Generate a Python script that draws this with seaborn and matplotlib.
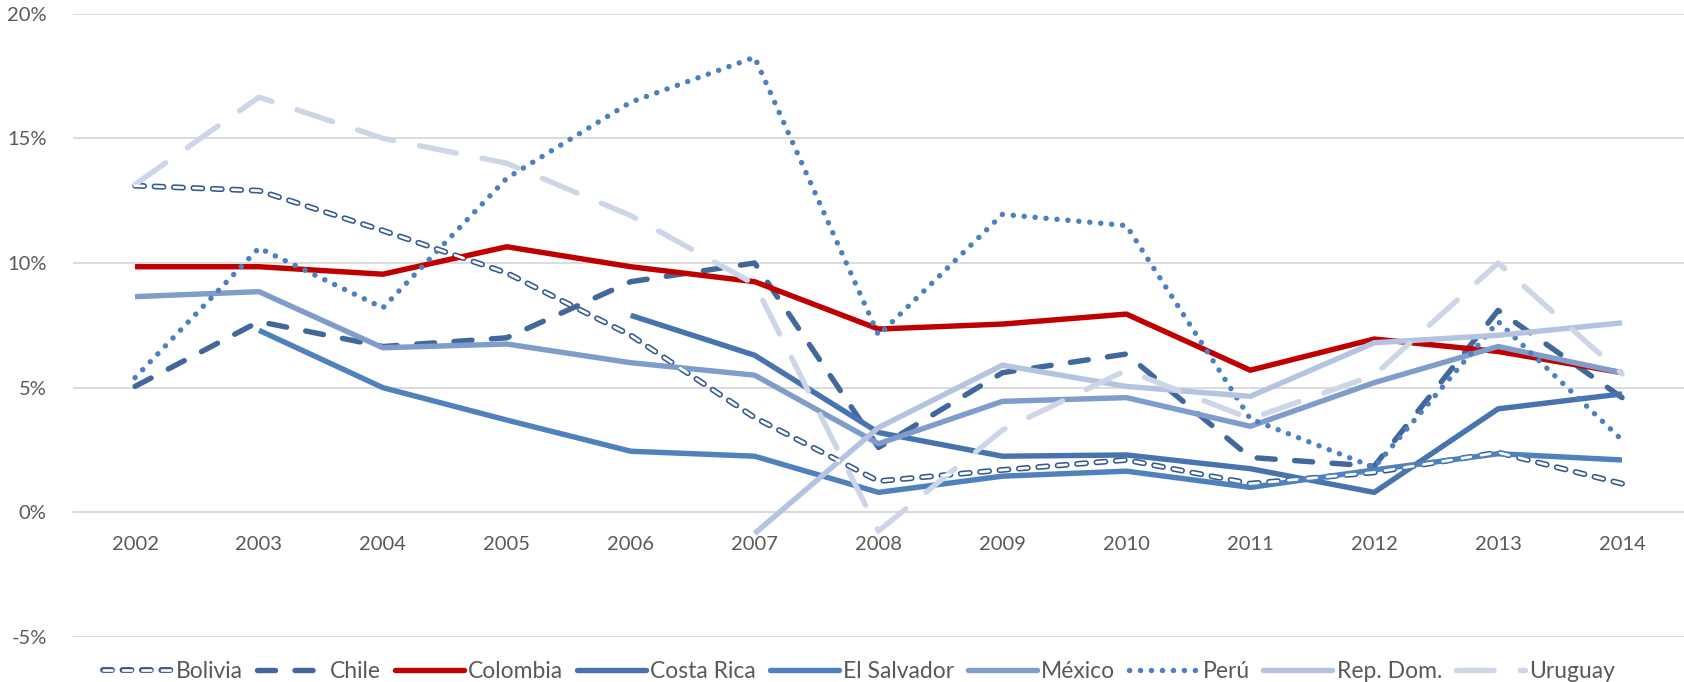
import numpy as np
import pandas as pd
import seaborn as sns
import matplotlib.pyplot as plt
from matplotlib.lines import Line2D
from matplotlib.legend_handler import HandlerTuple
from matplotlib.ticker import FuncFormatter

# data (percent)
years = list(range(2002, 2015))
countries = ['Bolivia', 'Chile', 'Colombia', 'Costa Rica', 'El Salvador',
             'México', 'Perú', 'Rep. Dom.', 'Uruguay']
nan = np.nan
bolivia = [13.1, 12.9, 11.3, 9.6, 7.1, 3.8, 1.25, 1.7, 2.1, 1.15, 1.6, 2.4, 1.15]
chile = [5.05, 7.65, 6.65, 7.0, 9.25, 10.0, 2.6, 5.6, 6.35, 2.2, 1.85, 8.1, 4.6]
colombia = [9.85, 9.85, 9.55, 10.65, 9.85, 9.25, 7.35, 7.55, 7.95, 5.7, 6.95, 6.45, 5.6]
costa_rica = [nan, nan, nan, nan, 7.9, 6.3, 3.2, 2.25, 2.3, 1.75, 0.8, 4.15, 4.75]
el_salvador = [nan, 7.3, 5.0, 3.7, 2.45, 2.25, 0.8, 1.45, 1.65, 1.0, 1.7, 2.35, 2.1]
mexico = [8.65, 8.85, 6.6, 6.75, 6.0, 5.5, 2.75, 4.45, 4.6, 3.45, 5.2, 6.65, 5.6]
peru = [5.4, 10.6, 8.2, 13.4, 16.45, 18.25, 7.1, 11.95, 11.5, 3.75, 1.8, 7.65, 2.9]
rep_dom = [nan, nan, nan, nan, nan, -0.85, 3.4, 5.9, 5.05, 4.65, 6.8, 7.1, 7.6]
uruguay = [13.15, 16.65, 15.0, 14.0, 11.9, 9.15, -0.75, 3.3, 5.7, 3.75, 5.5, 10.0, 5.55]
yticks = [-5, 0, 5, 10, 15, 20]

series = [bolivia, chile, colombia, costa_rica, el_salvador,
          mexico, peru, rep_dom, uruguay]
df = pd.DataFrame({'year': np.tile(years, len(countries)),
                   'country': np.repeat(countries, len(years)),
                   'value': np.concatenate(series)})

colors = {'Bolivia': '#34598c', 'Chile': '#41679b', 'Colombia': '#c00000',
          'Costa Rica': '#4774ae', 'El Salvador': '#4f81bd', 'México': '#7f9dca',
          'Perú': '#4d80c0', 'Rep. Dom.': '#b4c3df', 'Uruguay': '#cdd6e7'}
styles = {'Bolivia': (0, (6.5, 7.5)), 'Chile': (0, (13, 14)),
          'Colombia': '-', 'Costa Rica': '-', 'El Salvador': '-',
          'México': '-', 'Perú': (0, (0.1, 7.8)), 'Rep. Dom.': '-',
          'Uruguay': (0, (27, 19))}

sns.set_style('white')
plt.rcParams['font.family'] = ['Lato', 'DejaVu Sans']
plt.rcParams['lines.scale_dashes'] = False

fig = plt.figure(figsize=(16.84, 6.82), dpi=100)
ax = fig.add_axes([0.0434, 0.066, 0.9566, 0.914])

LW = 3.9
handles = []
for c in countries:
    d = df[(df.country == c) & df.value.notna()]
    lw = 4.2 if c == 'Bolivia' else LW
    sns.lineplot(data=d, x='year', y='value', ax=ax, color=colors[c],
                 linewidth=lw, linestyle=styles[c], dash_capstyle='round',
                 solid_capstyle='butt', solid_joinstyle='round', zorder=3)
    h = Line2D([], [], color=colors[c], lw=lw, linestyle=styles[c],
               dash_capstyle='round')
    if c == 'Bolivia':
        sns.lineplot(data=d, x='year', y='value', ax=ax, color='white',
                     linewidth=1.9, linestyle=styles[c], dash_capstyle='round',
                     zorder=3.1)
        h = (h, Line2D([], [], color='white', lw=1.9, linestyle=styles[c],
                       dash_capstyle='round'))
    handles.append(h)

ax.set_xlim(2001.5, 2014.5)
ax.set_ylim(-5, 20)
ax.set_yticks(yticks)
ax.set_xticks(years)
ax.yaxis.set_major_formatter(FuncFormatter(lambda v, p: f'{v:.0f}%'))
ax.grid(axis='y', color='#d9d9d9', lw=1.3, zorder=0)
ax.grid(axis='x', visible=False)
for s in ['top', 'right', 'left']:
    ax.spines[s].set_visible(False)
ax.spines['bottom'].set_position(('data', 0))
ax.spines['bottom'].set_color('#d9d9d9')
ax.spines['bottom'].set_linewidth(1.3)
ax.tick_params(axis='x', length=0, pad=17, labelsize=14.5, colors='#595959')
ax.tick_params(axis='y', length=0, pad=19, labelsize=14.5, colors='#595959')
ax.set_xlabel('')
ax.set_ylabel('')
if ax.get_legend() is not None:
    ax.get_legend().remove()

fig.legend(handles, countries, loc='lower center', bbox_to_anchor=(0.51, -0.03),
           ncol=len(countries), frameon=False, fontsize=16.5,
           handlelength=3.0, handletextpad=0.2, columnspacing=0.6,
           labelcolor='#595959', handler_map={tuple: HandlerTuple(ndivide=1)})

fig.savefig('out.png', dpi=100)
